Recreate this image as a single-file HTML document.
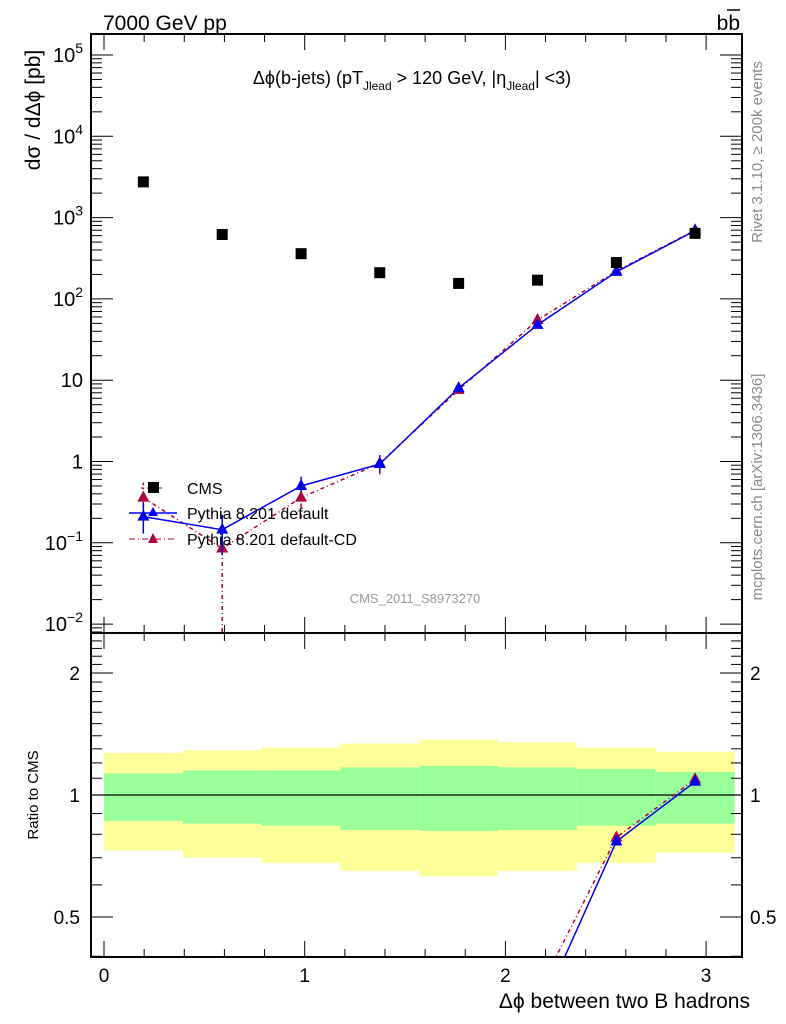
<!DOCTYPE html>
<html><head><meta charset="utf-8"><style>
html,body{margin:0;padding:0;background:#fff;width:786px;height:1024px;overflow:hidden;}
svg{display:block;font-family:"Liberation Sans",sans-serif;overflow:hidden;}
</style></head><body>
<svg id="chart" width="786" height="1024" viewBox="0 0 786 1024">
<text x="103" y="30" font-size="21">7000 GeV pp</text>
<text x="740" y="30" font-size="21" text-anchor="end">bb</text>
<line x1="727" y1="10" x2="740" y2="10" stroke="#000" stroke-width="1.5"/>
<text x="412" y="84" font-size="18" text-anchor="middle">Δϕ(b-jets) (pT<tspan font-size="12" dy="6">Jlead</tspan><tspan dy="-6"> &gt;  120 GeV, |η</tspan><tspan font-size="12" dy="6">Jlead</tspan><tspan dy="-6">| &lt;3)</tspan></text>
<text x="415" y="603" font-size="13" fill="#999" text-anchor="middle">CMS_2011_S8973270</text>
<text transform="translate(40,110) rotate(-90)" font-size="21" text-anchor="middle">dσ / dΔϕ [pb]</text>
<text transform="translate(38,795) rotate(-90)" font-size="15" text-anchor="middle">Ratio to CMS</text>
<text x="750" y="1008" font-size="21" text-anchor="end">Δϕ between two B hadrons</text>
<text transform="translate(762,152) rotate(-90)" font-size="15" fill="#888" text-anchor="middle">Rivet 3.1.10, ≥ 200k events</text>
<text transform="translate(762,487) rotate(-90)" font-size="15" fill="#888" text-anchor="middle">mcplots.cern.ch [arXiv:1306.3436]</text>
<g id="main"></g>
<g id="ratio"></g>
<g id="legend">
<line x1="141" y1="488" x2="165" y2="488" stroke="#c00" stroke-dasharray="3,3"/>
<rect x="148" y="482" width="11" height="11" fill="#000"/>
<text x="187" y="494" font-size="16">CMS</text>
<line x1="129" y1="513" x2="177" y2="513" stroke="#00f" stroke-width="1.5"/>
<path d="M153,507 L158,516 L148,516 Z" fill="#00f"/>
<text x="187" y="519" font-size="16">Pythia 8.201 default</text>
<line x1="129" y1="539" x2="177" y2="539" stroke="#b0003a" stroke-dasharray="6,3,1,3"/>
<path d="M153,533 L158,543 L148,543 Z" fill="#b0003a"/>
<text x="187" y="545" font-size="16">Pythia 8.201 default-CD</text>
</g>
</svg>
<script>
const binCenters=[0.196,0.589,0.982,1.374,1.767,2.160,2.553,2.945];
const binEdges=[0,0.393,0.785,1.178,1.571,1.963,2.356,2.749,3.142];
const cmsValues=[2750,620,360,210,155,170,280,640];
const defaultValues=[0.21,0.145,0.5,0.93,8,48,215,690];
const defaultErrLo=[0.13,0.07,0.42,0.75,7.4,45,205,670];
const defaultErrHi=[0.32,0.22,0.65,1.2,8.6,51,225,710];
const cdValues=[0.36,0.085,0.36,0.95,7.6,55,220,700];
const cdErrLo=[0.2,0.008,0.2,0.7,7,51,210,680];
const cdErrHi=[0.55,0.18,0.45,1.3,8.2,59,230,720];
const yellowHi=[1.27,1.29,1.31,1.34,1.37,1.35,1.31,1.28];
const yellowLo=[0.73,0.70,0.68,0.65,0.63,0.65,0.68,0.72];
const greenHi=[1.13,1.15,1.15,1.17,1.18,1.17,1.16,1.14];
const greenLo=[0.863,0.85,0.84,0.82,0.815,0.82,0.84,0.85];
const xTicks=[0,1,2,3];
const yDecades=[-2,-1,0,1,2,3,4,5];
const yDecadeExps=["−2","−1","","","2","3","4","5"];
const yDecadeBases=["10","10","1","10","10","10","10","10"];
const ratioTicks=[0.5,1,2];

const NS="http://www.w3.org/2000/svg";
const L=91,R=742,T=34,MB=633,RB=957;
const X=v=>104+v*200.7;
const Y=v=>55+(5-Math.log10(v))*81.3;
const RY=v=>795-Math.log2(v)*122;
function mk(p,tag,attrs){const e=document.createElementNS(NS,tag);for(const k in attrs)e.setAttribute(k,attrs[k]);p.appendChild(e);return e;}
const svg=document.getElementById('chart');
const main=document.getElementById('main'),ratio=document.getElementById('ratio');

for(let i=0;i<8;i++){
 let r=mk(ratio,'rect',{x:X(binEdges[i]),y:RY(yellowHi[i]),width:X(binEdges[i+1])-X(binEdges[i]),height:RY(yellowLo[i])-RY(yellowHi[i]),fill:'#ffff99'});
 
 
 let g=mk(ratio,'rect',{x:X(binEdges[i]),y:RY(greenHi[i]),width:X(binEdges[i+1])-X(binEdges[i]),height:RY(greenLo[i])-RY(greenHi[i]),fill:'#99ff99'});
 
 
}
let one=mk(ratio,'line',{x1:L,x2:R,y1:RY(1),y2:RY(1),stroke:'#000','stroke-width':1.2});



const defs=mk(svg,'defs',{});
const c1=mk(defs,'clipPath',{id:'cm'});mk(c1,'rect',{x:L,y:T,width:R-L,height:MB-T});
const c2=mk(defs,'clipPath',{id:'cr'});mk(c2,'rect',{x:L,y:MB,width:R-L,height:RB-MB});
const gm=mk(main,'g',{'clip-path':'url(#cm)'});
const gr=mk(ratio,'g',{'clip-path':'url(#cr)'});

function tri(g,x,y,col,name){let p=mk(g,'path',{d:`M${x},${y-7} L${x+6},${y+4} L${x-6},${y+4} Z`,fill:col});}

function series(vals,lo,hi,col,dash,name){
 let pts=binCenters.map((c,i)=>X(c)+','+Y(vals[i])).join(' ');
 let pl=mk(gm,'polyline',{points:pts,fill:'none',stroke:col,'stroke-width':1.5,'stroke-dasharray':dash});
 
 
 binCenters.forEach((c,i)=>{
  let e=mk(gm,'line',{x1:X(c),x2:X(c),y1:Y(Math.max(lo[i],0.005)),y2:Y(hi[i]),stroke:col,'stroke-width':1.5,'stroke-dasharray':dash});
  
  
  tri(gm,X(c),Y(vals[i]),col,name+'-point');
 });
}
series(cdValues,cdErrLo,cdErrHi,'#b0003a','4,3,1,3','cd');
series(defaultValues,defaultErrLo,defaultErrHi,'#0000ee','','default');
binCenters.forEach((c,i)=>{
 let r=mk(gm,'rect',{x:X(c)-5.5,y:Y(cmsValues[i])-5.5,width:11,height:11,fill:'#000'});
 
 
});

function rseries(vals,col,dash,name){
 let pts=binCenters.map((c,i)=>X(c)+','+RY(vals[i]/cmsValues[i])).join(' ');
 let pl=mk(gr,'polyline',{points:pts,fill:'none',stroke:col,'stroke-width':1.5,'stroke-dasharray':dash});
 
 
 binCenters.forEach((c,i)=>tri(gr,X(c),RY(vals[i]/cmsValues[i]),col,name+'-ratio-point'));
}
rseries(cdValues,'#b0003a','4,3,1,3','cd');
rseries(defaultValues,'#0000ee','','default');

const axes=mk(svg,'g',{stroke:'#000','stroke-width':2,fill:'none'});
let f1=mk(axes,'rect',{x:L,y:T,width:R-L,height:MB-T});
let f2=mk(axes,'rect',{x:L,y:MB,width:R-L,height:RB-MB});
const tk=mk(svg,'g',{stroke:'#000','stroke-width':1});
for(let v=0;v<=3.15;v+=0.2){
 const maj=xTicks.some(t=>Math.abs(t-v)<1e-6);const len=maj?16:8;
 for(const [yb,yt] of [[MB,T],[RB,MB]]){
  mk(tk,'line',{x1:X(v),x2:X(v),y1:yb,y2:yb-len});
  mk(tk,'line',{x1:X(v),x2:X(v),y1:yt,y2:yt+len});
 }
}
xTicks.forEach(t=>{let e=mk(svg,'text',{x:X(t),y:982,'font-size':19,'text-anchor':'middle'});e.textContent=t;});
yDecades.forEach((d,i)=>{
 for(let m=1;m<10;m++){const v=m*Math.pow(10,d);const y=Y(v);if(y<T||y>MB)continue;const len=m==1?22:11;
  mk(tk,'line',{x1:L,x2:L+len,y1:y,y2:y});mk(tk,'line',{x1:R,x2:R-len,y1:y,y2:y});}
 let e=mk(svg,'text',{x:83,y:Y(Math.pow(10,d))+7,'font-size':20,'text-anchor':'end'});
 e.textContent=yDecadeBases[i];
 if(yDecadeExps[i]){const s=mk(e,'tspan',{'font-size':14,dy:-9});s.textContent=yDecadeExps[i];}
 
 
});
for(let m=1;m<10;m++){const y=Y(m*1e-3);if(y>=T&&y<=MB){mk(tk,'line',{x1:L,x2:L+11,y1:y,y2:y});}}
for(let v=0.4;v<=2.5;v+=0.1){const y=RY(v);if(y<MB||y>RB)continue;const maj=ratioTicks.some(t=>Math.abs(t-v)<1e-6);const len=maj?22:11;
 mk(tk,'line',{x1:L,x2:L+len,y1:y,y2:y});mk(tk,'line',{x1:R,x2:R-len,y1:y,y2:y});}
ratioTicks.forEach(t=>{
 let a=mk(svg,'text',{x:80,y:RY(t)+7,'font-size':19,'text-anchor':'end'});a.textContent=t;
 
 
 let b=mk(svg,'text',{x:750,y:RY(t)+7,'font-size':19});b.textContent=t;
 
 
});
</script>
</body></html>
